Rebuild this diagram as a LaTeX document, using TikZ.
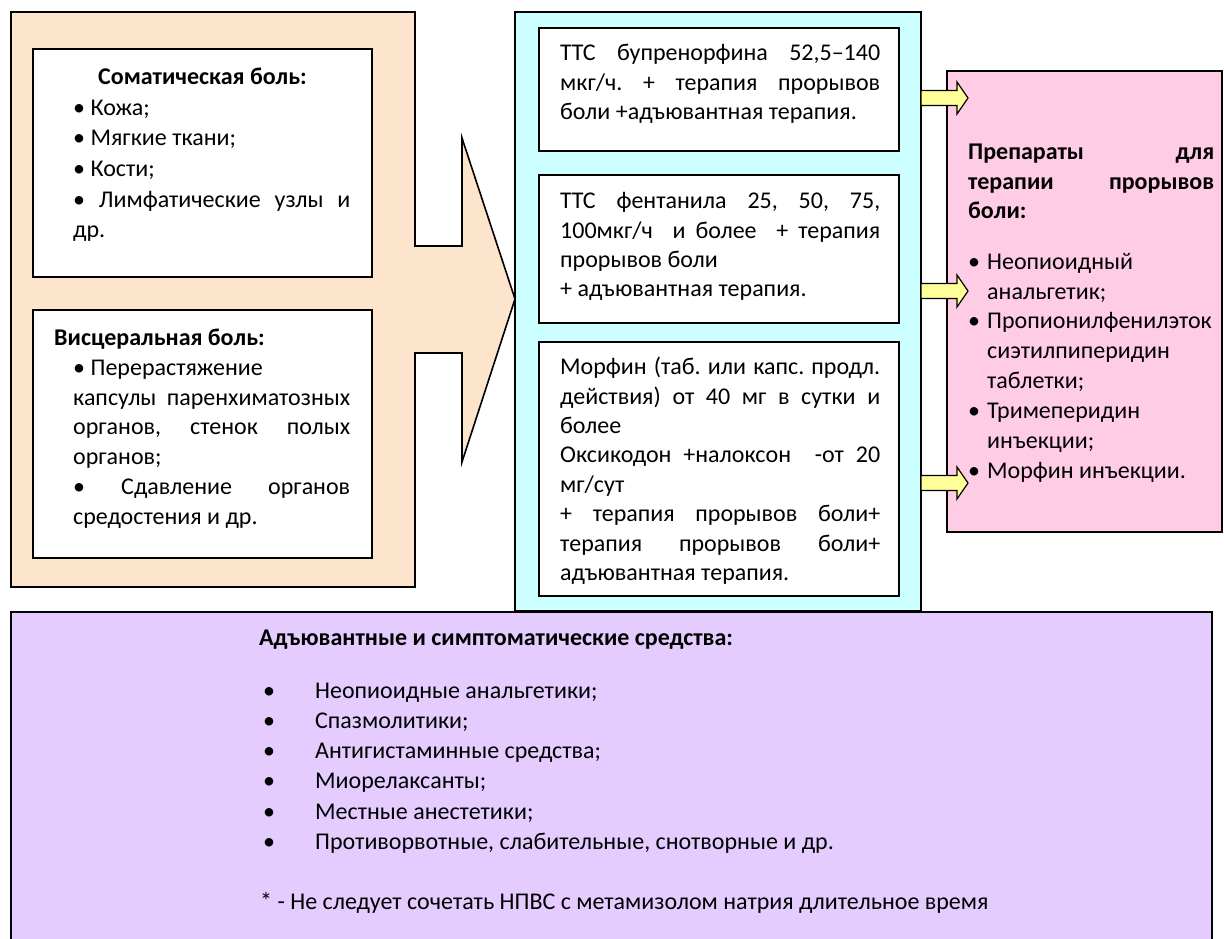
\documentclass[tikz,border=0pt]{standalone}
\usepackage{fontspec}
\setmainfont{Carlito}
\usepackage{xcolor}
\usetikzlibrary{calc}

\definecolor{peach}{HTML}{FDE4CC}
\definecolor{cyanbg}{HTML}{CCFFFF}
\definecolor{pinkbg}{HTML}{FFCCE6}
\definecolor{lilac}{HTML}{E5CCFF}
\definecolor{arrowyel}{HTML}{FFFF99}

\frenchspacing
\newcommand{\bodyfont}{\fontsize{24}{29.9}\selectfont\hyphenpenalty=10000}
\newcommand{\pbul}{\makebox[19pt][l]{•}}
\newcommand{\pind}{\hspace*{19pt}}
\newcommand{\lbul}{\makebox[52pt][l]{•}}

\tikzset{
  panel/.style={draw=black, line width=1.6pt},
  txtbox/.style={draw=black, fill=white, line width=1.6pt},
  body/.style={anchor=north west, inner sep=0pt, align=justify, font=\bodyfont},
  head/.style={anchor=north west, inner sep=0pt, font=\bodyfont\bfseries},
}

\begin{document}
\begin{tikzpicture}[x=1pt,y=-1pt]
\clip (0,0) rectangle (1224,938);
\fill[white] (0,0) rectangle (1224,938);

% background panels
\draw[panel,fill=peach] (11,12) -- (415,12) -- (415,246) -- (462,246) -- (462,138)
  -- (515,299) -- (462,462) -- (462,353) -- (415,353) -- (415,587) -- (11,587) -- cycle;
\draw[panel,fill=cyanbg] (515,12) rectangle (921,611);
\draw[panel,fill=pinkbg] (947,71) rectangle (1222,532);
\draw[panel,fill=lilac] (11,612) rectangle (1212,960);

% white boxes
\draw[txtbox] (33,49) rectangle (372,277);
\draw[txtbox] (33,310) rectangle (372,558);
\draw[txtbox] (539,28) rectangle (899,151);
\draw[txtbox] (539,175) rectangle (899,323);
\draw[txtbox] (539,342) rectangle (899,596);

% yellow arrows
\foreach \y in {98,291,483}{
  \draw[line width=1.2pt,fill=arrowyel] (921,\y-7.5) -- (957,\y-7.5) -- (957,\y-16)
    -- (968,\y) -- (957,\y+16) -- (957,\y+7.5) -- (921,\y+7.5) -- cycle;
}

% left column
\node[body,text width=277pt,font=\fontsize{24}{30.6}\selectfont] (soma) at (73,63) {\strut\hspace*{25pt}\textbf{Соматическая боль:}\\
  • Кожа;\\ • Мягкие ткани;\\ • Кости;\\ • Лимфатические узлы и\linebreak др.};
\node[head] (viscT) at (54,324) {\strut Висцеральная боль:};
\node[body,text width=277pt] (visc) at (73,354) {\strut• Перерастяжение\\
  капсулы паренхиматозных\linebreak органов, стенок полых\linebreak органов;\\
  • Сдавление органов\linebreak средостения и др.};

% middle column
\node[body,text width=320pt] (ttcA) at (560,39) {\strut ТТС бупренорфина 52,5–140\linebreak
  мкг/ч. + терапия прорывов\linebreak боли +адъювантная терапия.};
\node[body,text width=320pt,font=\fontsize{24}{29.4}\selectfont] (ttcB) at (560,188) {\strut ТТС фентанила 25, 50, 75,\linebreak
  100мкг/ч\ \ и более\ \ + терапия\linebreak прорывов боли\\ + адъювантная терапия.};
\node[body,text width=320pt,font=\fontsize{24}{29.4}\selectfont] (morph) at (560,354) {\strut Морфин (таб. или капс. продл.\linebreak
  действия) от 40 мг в сутки и\linebreak более\\ Оксикодон +налоксон\ \ -от 20\linebreak
  мг/сут\\ + терапия прорывов боли+\linebreak терапия прорывов боли+\linebreak адъювантная терапия.};

% right column
\node[body,font=\bodyfont\bfseries,text width=246pt] (breakT) at (968,138) {\strut Препараты для\linebreak
  терапии прорывов\linebreak боли:};
\node[body,text width=256pt] (breakL) at (968,248) {\strut\pbul Неопиоидный\\ \pind анальгетик;\\
  \pbul Пропионилфенилэток\\ \pind сиэтилпиперидин\\ \pind таблетки;\\
  \pbul Тримеперидин\\ \pind инъекции;\\ \pbul Морфин инъекции.};

% bottom panel
\node[head] (adjT) at (259,624) {\strut Адъювантные и симптоматические средства:};
\node[body,text width=800pt,font=\fontsize{24}{30.2}\selectfont] (adjL) at (263,677) {\strut\lbul Неопиоидные анальгетики;\\
  \lbul Спазмолитики;\\ \lbul Антигистаминные средства;\\ \lbul Миорелаксанты;\\
  \lbul Местные анестетики;\\ \lbul Противорвотные, слабительные, снотворные и др.};
\node[body,align=left] (note) at (260,888) {\strut * - Не следует сочетать НПВС с метамизолом натрия длительное время};
\end{tikzpicture}
\end{document}
